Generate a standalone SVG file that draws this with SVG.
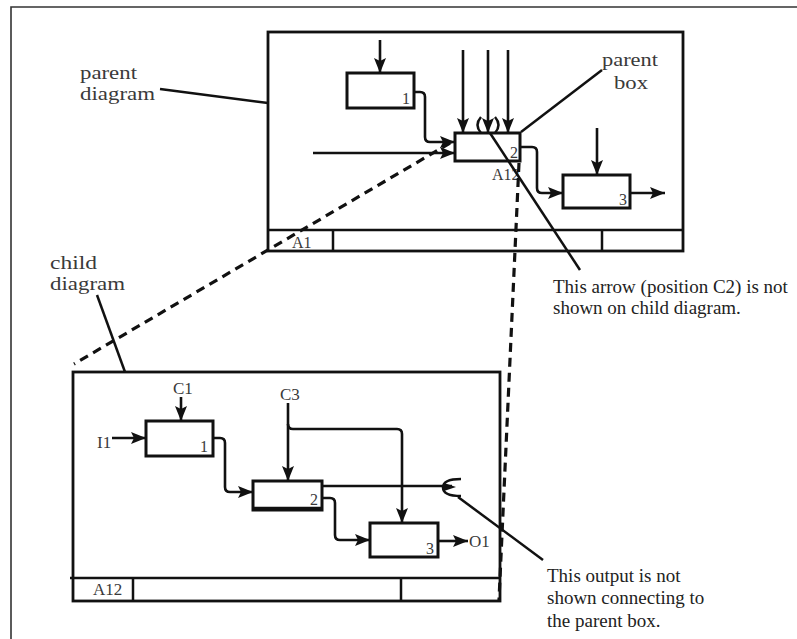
<svg xmlns="http://www.w3.org/2000/svg" width="797" height="639" viewBox="0 0 797 639">
<style>
  .frame{fill:none;stroke:#111;stroke-width:2.8}
  .box{fill:#fff;stroke:#111;stroke-width:3}
  .ln{fill:none;stroke:#111;stroke-width:2.5}
  .arr{fill:none;stroke:#111;stroke-width:2.6;marker-end:url(#ah)}
  .dash{fill:none;stroke:#111;stroke-width:3.2;stroke-dasharray:9 6}
  .lbl{font-family:"Liberation Serif","Times New Roman",serif;fill:#3a3a3a}
  .big{font-size:19px}
  .note{font-size:19px;fill:#222}
  .num{font-size:16px}
  .small{font-size:17px}
</style>
<defs>
  <marker id="ah" markerUnits="userSpaceOnUse" markerWidth="15" markerHeight="12" refX="15" refY="6" orient="auto">
    <path d="M0,0 L15,6 L0,12 L3,6 z" fill="#111"/>
  </marker>
</defs>
<rect width="797" height="639" fill="#fff"/>
<g id="outer-frame">
  <path d="M11,639 V7 H797" fill="none" stroke="#333" stroke-width="1.6"/>
</g>
<g id="parent-diagram">
  <rect class="frame" x="268" y="32" width="415" height="219"/>
  <path class="ln" d="M268,230 H683 M333,230 V251 M602,230 V251"/>
  <text class="lbl num" x="292" y="248">A1</text>
</g>
<g id="parent-box1">
  <rect class="box" x="347" y="73" width="67" height="35"/>
  <text class="lbl num" x="402" y="104">1</text>
</g>
<g id="parent-box2">
  <rect class="box" x="455" y="133" width="65" height="28"/>
  <text class="lbl num" x="510" y="158">2</text>
  <text class="lbl num" x="492" y="180">A12</text>
</g>
<g id="parent-box3">
  <rect class="box" x="563" y="175" width="67" height="33"/>
  <text class="lbl num" x="619" y="205">3</text>
</g>
<g id="child-diagram">
  <rect class="frame" x="73" y="372" width="427" height="229"/>
  <path class="ln" d="M70,578 H500 M133,578 V601 M401,578 V601"/>
  <text class="lbl small" x="93" y="595">A12</text>
</g>
<g id="child-box1">
  <rect class="box" x="146" y="421" width="67" height="35"/>
  <text class="lbl num" x="200" y="452">1</text>
</g>
<g id="child-box2">
  <rect class="box" x="253" y="481" width="69" height="29"/>
  <path class="ln" d="M254,508 H321" stroke-width="1.5"/>
  <text class="lbl num" x="310" y="505">2</text>
</g>
<g id="child-box3">
  <rect class="box" x="370" y="523" width="68" height="34"/>
  <text class="lbl num" x="426" y="554">3</text>
</g>
<g id="connectors">
  <!-- parent diagram -->
  <path class="arr" d="M380,40 V73"/>
  <path class="arr" d="M414,92 H420 Q425,92 425,97 V137 Q425,142 430,142 H455"/>
  <path class="arr" d="M313,153 H455"/>
  <path class="arr" d="M463,50 V133"/>
  <path class="arr" d="M488,50 V133"/>
  <path class="arr" d="M508,50 V133"/>
  <path class="ln" d="M481,117 Q474,125 481,133 M495,117 Q502,125 495,133" stroke-width="2.8"/>
  <path class="arr" d="M520,147 H532 Q537,147 537,152 V188 Q537,193 542,193 H563"/>
  <path class="arr" d="M597,128 V175"/>
  <path class="arr" d="M630,193 H665"/>
  <!-- child diagram -->
  <path class="arr" d="M181,397 V421"/>
  <path class="arr" d="M112,438 H146"/>
  <path class="arr" d="M213,438 H220 Q225,438 225,443 V487 Q225,492 230,492 H253"/>
  <path class="arr" d="M288,403 V481"/>
  <path class="arr" d="M288,424 Q288,429 293,429 H397 Q402,429 402,434 V523"/>
  <path class="ln" d="M322,486 H452" stroke-width="2.8"/>
  <path class="ln" d="M461,479 Q443,479 443,487.5 Q443,496 461,496" stroke-width="3.4"/>
  <path d="M444,483 L456,487 L444,491 z" fill="#111"/>
  <path class="arr" d="M322,498 H330 Q335,498 335,503 V535 Q335,540 340,540 H370"/>
  <path class="arr" d="M438,541 H468"/>
  <!-- dashed relation lines -->
  <path class="dash" d="M450,143 L74,364"/>
  <path class="dash" d="M519,163 L499,600"/>
  <!-- leader lines -->
  <path class="ln" d="M160,89 L268,103"/>
  <path class="ln" d="M97,295 L125,372"/>
  <path class="ln" d="M521,132 L602,70"/>
  <path class="ln" d="M490,133 L580,270"/>
  <path class="ln" d="M458,497 L543,560"/>
</g>
<g id="labels">
  <text class="lbl big" x="80" y="79" textLength="57" lengthAdjust="spacingAndGlyphs">parent</text>
  <text class="lbl big" x="80" y="100" textLength="75" lengthAdjust="spacingAndGlyphs">diagram</text>
  <text class="lbl big" x="50" y="269" textLength="47" lengthAdjust="spacingAndGlyphs">child</text>
  <text class="lbl big" x="50" y="290" textLength="75" lengthAdjust="spacingAndGlyphs">diagram</text>
  <text class="lbl big" x="602" y="66" textLength="56" lengthAdjust="spacingAndGlyphs">parent</text>
  <text class="lbl big" x="614" y="89" textLength="34" lengthAdjust="spacingAndGlyphs">box</text>
  <text class="lbl small" x="173" y="394">C1</text>
  <text class="lbl small" x="280" y="400">C3</text>
  <text class="lbl small" x="97" y="448">I1</text>
  <text class="lbl small" x="469" y="547">O1</text>
  <text class="lbl note" x="553" y="293">This arrow (position C2) is not</text>
  <text class="lbl note" x="553" y="314">shown on child diagram.</text>
  <text class="lbl note" x="547" y="582">This output is not</text>
  <text class="lbl note" x="547" y="604">shown connecting to</text>
  <text class="lbl note" x="547" y="627">the parent box.</text>
</g>
</svg>
